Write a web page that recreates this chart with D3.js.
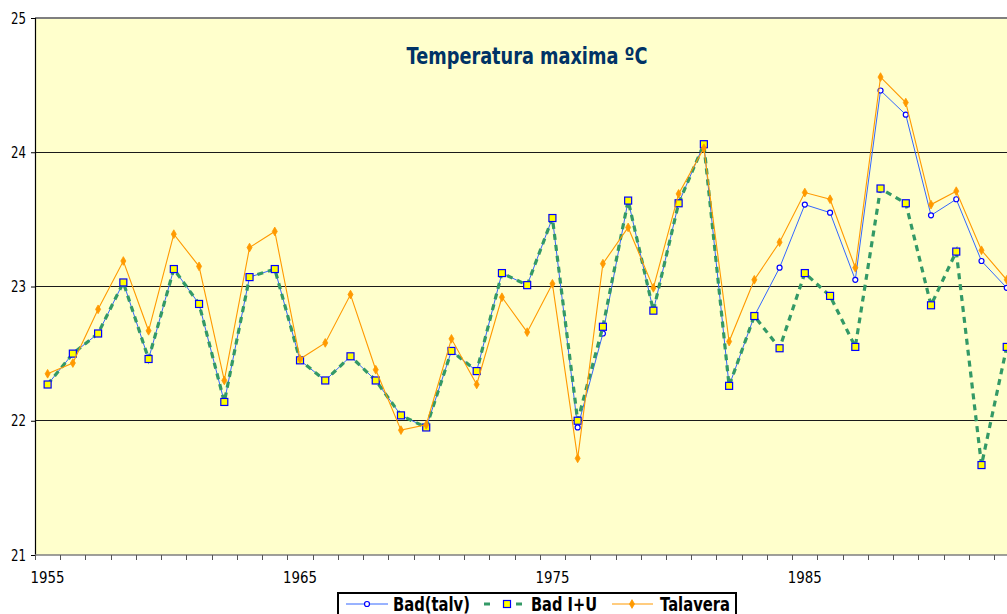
<!DOCTYPE html>
<html><head><meta charset="utf-8">
<script src="https://cdn.jsdelivr.net/npm/d3@7"></script>
<style>
html,body{margin:0;padding:0;background:#fff;overflow:hidden}
svg{display:block}
text{font-family:"DejaVu Sans",Verdana,sans-serif}
</style></head>
<body>
<svg id="c" width="1007" height="614"></svg>
<script>
const years = d3.range(1955, 1994);
const badTalv = [22.27,22.50,22.65,23.03,22.46,23.13,22.87,22.14,23.07,23.13,
  22.45,22.30,22.48,22.30,22.04,21.95,22.52,22.37,23.10,23.01,
  23.51,21.95,22.65,23.64,22.82,23.62,24.06,22.26,22.78,23.14,
  23.61,23.55,23.05,24.46,24.28,23.53,23.65,23.19,22.99];
const badIU = [22.27,22.50,22.65,23.03,22.46,23.13,22.87,22.14,23.07,23.13,
  22.45,22.30,22.48,22.30,22.04,21.95,22.52,22.37,23.10,23.01,
  23.51,22.00,22.70,23.64,22.82,23.62,24.06,22.26,22.78,22.54,
  23.10,22.93,22.55,23.73,23.62,22.86,23.26,21.67,22.55];
const talavera = [22.35,22.43,22.83,23.19,22.67,23.39,23.15,22.30,23.29,23.41,
  22.46,22.58,22.94,22.38,21.93,21.97,22.61,22.27,22.92,22.66,
  23.02,21.72,23.17,23.44,22.99,23.69,24.03,22.59,23.05,23.33,
  23.70,23.65,23.14,24.56,24.37,23.61,23.71,23.27,23.05];
const yTicks = [21,22,23,24,25];
const xLabels = [1955,1965,1975,1985];
const title = "Temperatura maxima ºC";
const seriesNames = ["Bad(talv)","Bad I+U","Talavera"];

const svg = d3.select("#c");
const L = 35, T = 18, B = 555, W = 1007;
const step = 25.24;
const x = d3.scaleBand().domain(years).range([L, L + years.length*step]).padding(0);
const y = d3.scaleLinear().domain([21,25]).range([B, T]);
const cx = d => x(d) + x.bandwidth()/2;

// plot background
svg.append("rect").attr("x", L).attr("y", T).attr("width", W - L + 20).attr("height", B - T).attr("fill", "#FFFFCC");

// gridlines
svg.append("g").selectAll("line").data([22,23,24]).join("line")
  .attr("x1", L).attr("x2", W + 20).attr("y1", d => y(d)).attr("y2", d => y(d))
  .attr("stroke", "#1a1a1a").attr("stroke-width", 1).attr("shape-rendering","crispEdges");
svg.append("line").attr("x1", L).attr("x2", W + 20).attr("y1", y(25)).attr("y2", y(25))
  .attr("stroke", "#7f7f7f").attr("stroke-width", 1.2).attr("shape-rendering","crispEdges");

// y axis
const yAxis = svg.append("g").attr("transform", `translate(${L},0)`)
  .call(d3.axisLeft(y).tickValues(yTicks).tickSize(4).tickPadding(5).tickFormat(d3.format("d")));
yAxis.select(".domain").attr("stroke", "#000").attr("stroke-width", 1.2);
yAxis.selectAll(".tick line").attr("stroke", "#000");
yAxis.selectAll("text").attr("font-size", 16).attr("fill", "#000")
  .attr("font-family", "'DejaVu Sans', Verdana, sans-serif")
  .attr("textLength", 15).attr("lengthAdjust", "spacingAndGlyphs");

// x axis
const xg = svg.append("g").attr("transform", `translate(0,${B})`);
xg.append("line").attr("x1", L).attr("x2", W + 20).attr("y1", 0).attr("y2", 0)
  .attr("stroke", "#7f7f7f").attr("stroke-width", 1.5);
xg.selectAll("line.tk").data(years).join("line").attr("class","tk")
  .attr("x1", d => Math.round(x(d)) + 0.5).attr("x2", d => Math.round(x(d)) + 0.5)
  .attr("y1", 0).attr("y2", 5).attr("stroke", "#555").attr("stroke-width", 1);
const xAxis = xg.append("g").call(d3.axisBottom(x).tickValues(xLabels).tickSize(0).tickPadding(17).tickFormat(d3.format("d")));
xAxis.select(".domain").remove();
xAxis.selectAll("text").attr("font-size", 16).attr("fill", "#000")
  .attr("font-family", "'DejaVu Sans', Verdana, sans-serif")
  .attr("textLength", 34).attr("lengthAdjust", "spacingAndGlyphs");

// title
svg.append("text").attr("x", 527).attr("y", 64).attr("text-anchor", "middle")
  .attr("font-size", 23).attr("font-weight", "bold").attr("fill", "#003366")
  .attr("textLength", 241).attr("lengthAdjust", "spacingAndGlyphs").text(title);

const line = d3.line().x((d,i) => cx(years[i])).y(d => y(d));

// Bad(talv)
svg.append("path").datum(badTalv).attr("d", line).attr("fill", "none")
  .attr("stroke", "#3366FF").attr("stroke-width", 1);
svg.append("g").selectAll("circle").data(badTalv).join("circle")
  .attr("cx", (d,i) => cx(years[i])).attr("cy", d => y(d)).attr("r", 2.5)
  .attr("fill", "#fff").attr("stroke", "#0000FF").attr("stroke-width", 1.2);

// Bad I+U
svg.append("path").datum(badIU).attr("d", line).attr("fill", "none")
  .attr("stroke", "#339966").attr("stroke-width", 3.2).attr("stroke-dasharray", "6,5");
svg.append("g").selectAll("rect").data(badIU).join("rect")
  .attr("x", (d,i) => cx(years[i]) - 3.5).attr("y", d => y(d) - 3.5).attr("width", 7).attr("height", 7)
  .attr("fill", "#FFFF00").attr("stroke", "#0000FF").attr("stroke-width", 1.2);

// Talavera
svg.append("path").datum(talavera).attr("d", line).attr("fill", "none")
  .attr("stroke", "#FF9900").attr("stroke-width", 1.1);
const diamond = d3.symbol().type(d3.symbolDiamond).size(22);
svg.append("g").selectAll("path").data(talavera).join("path")
  .attr("transform", (d,i) => `translate(${cx(years[i])},${y(d)})`).attr("d", diamond)
  .attr("fill", "#FF9900").attr("stroke", "#FF9900").attr("stroke-width", 0.8);

// legend
const lg = svg.append("g");
lg.append("rect").attr("x", 338).attr("y", 593).attr("width", 398).attr("height", 30)
  .attr("fill", "#fff").attr("stroke", "#000").attr("stroke-width", 2);
const ly = 604;
lg.append("line").attr("x1", 346).attr("x2", 388).attr("y1", ly).attr("y2", ly).attr("stroke", "#3366FF").attr("stroke-width", 1);
lg.append("circle").attr("cx", 367).attr("cy", ly).attr("r", 2.5).attr("fill", "#fff").attr("stroke", "#0000FF").attr("stroke-width", 1.2);
lg.append("line").attr("x1", 484).attr("x2", 528).attr("y1", ly).attr("y2", ly).attr("stroke", "#339966").attr("stroke-width", 3.2).attr("stroke-dasharray", "6,13,0,13,6");
lg.append("rect").attr("x", 503.5).attr("y", ly - 3.5).attr("width", 7).attr("height", 7).attr("fill", "#FFFF00").attr("stroke", "#0000FF").attr("stroke-width", 1.2);
lg.append("line").attr("x1", 612).attr("x2", 653).attr("y1", ly).attr("y2", ly).attr("stroke", "#FF9900").attr("stroke-width", 1.1);
lg.append("path").attr("transform", `translate(632,${ly})`).attr("d", diamond).attr("fill", "#FF9900").attr("stroke", "#FF9900").attr("stroke-width", 0.8);
const lt = [[393, 77, seriesNames[0]], [531, 66, seriesNames[1]], [660, 70, seriesNames[2]]];
lg.selectAll("text").data(lt).join("text")
  .attr("x", d => d[0]).attr("y", 611).attr("font-size", 19).attr("font-weight", "bold").attr("fill", "#000")
  .attr("textLength", d => d[1]).attr("lengthAdjust", "spacingAndGlyphs").text(d => d[2]);
</script>
</body></html>
